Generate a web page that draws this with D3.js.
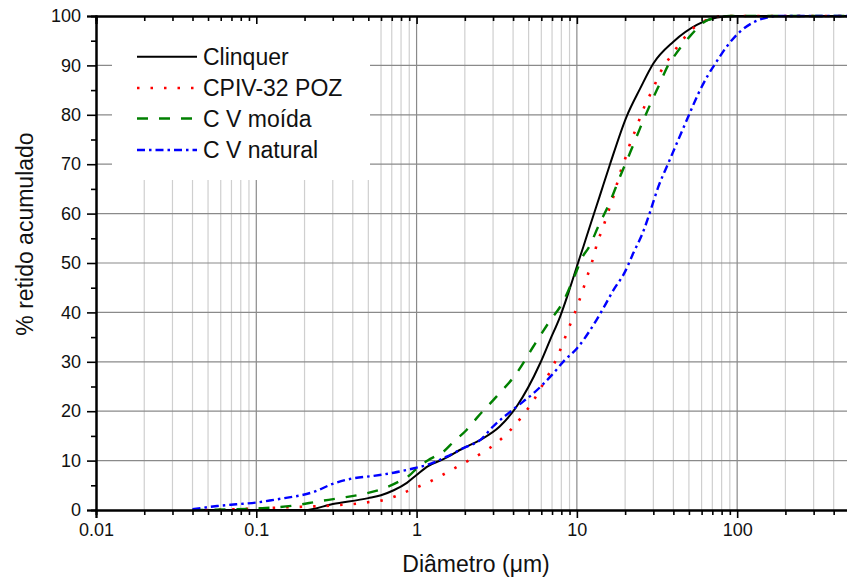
<!DOCTYPE html>
<html><head><meta charset="utf-8">
<script src="https://cdn.jsdelivr.net/npm/d3@7"></script>
<style>body{margin:0;background:#fff}svg{display:block}text{font-family:"Liberation Sans",Arial,sans-serif}</style>
</head><body><svg id="c" width="847" height="588"></svg>
<script>
// ---- data ----
const seriesNames = ["Clinquer", "CPIV-32 POZ", "C V moída", "C V natural"];
const clinquer = [[0.04,0],[0.2,0],[0.3,1.2],[0.5,2.4],[0.6,3.0],[0.72,4.0],[0.87,5.5],[1.0,7.1],[1.18,8.9],[1.47,10.3],[1.95,12.5],[2.5,14.2],[3.3,16.9],[4.2,20.9],[5.9,29.7],[6.8,34.4],[7.85,39.1],[8.84,43.9],[10,49.3],[11,53.4],[12.1,57.6],[13.9,63.6],[16.1,70],[20.4,79.6],[24.8,85.3],[30,90.4],[40,94.8],[56,98.2],[75,99.7],[100,100],[500,100]];
const cpiv = [[0.048,0],[0.08,0.2],[0.14,0.5],[0.216,0.7],[0.26,0.8],[0.325,1.0],[0.4,1.2],[0.49,1.55],[0.6,1.9],[0.74,2.8],[0.91,4.05],[1.13,5.3],[1.39,6.75],[1.69,8.3],[2.08,9.9],[2.6,11.7],[3.16,13.6],[3.86,16.2],[4.59,19.1],[5.3,21.9],[6.03,25],[6.73,27.7],[7.48,30.7],[8.15,33.6],[8.84,36.6],[9.6,39.5],[10.35,42.4],[11.07,45.2],[11.8,48],[12.7,51.2],[13.4,54.1],[14.5,57],[15.5,59.9],[16.7,62.9],[18.8,68.7],[20.2,71.5],[21.7,74.6],[23.6,77.5],[25.4,80.4],[27.9,83.3],[30.7,86.2],[33.8,89.1],[39,92.1],[45,94.9],[54.6,97.8],[66,99.3],[82,100],[500,100]];
const cvMoida = [[0.04,0],[0.1,0.3],[0.18,1.0],[0.24,1.7],[0.33,2.4],[0.46,3.2],[0.65,4.6],[0.77,5.7],[0.91,7.1],[1.0,8.4],[1.21,10.3],[1.47,11.8],[1.7,13.8],[2.05,16.2],[2.4,18.8],[3.16,23],[4.21,27.7],[5.35,33.1],[6.63,37.8],[8.22,42.2],[9.73,47.6],[11,51.6],[11.8,53],[13.6,57.4],[16.1,62.4],[18.6,67.5],[21.4,72.2],[24.8,77.3],[28.6,82],[33,86.4],[37.2,90.1],[39,91.1],[49.5,95.5],[66,99.2],[90,100],[500,100]];
const cvNatural = [[0.04,0.15],[0.057,0.8],[0.075,1.15],[0.1,1.5],[0.134,2.15],[0.15,2.4],[0.23,3.7],[0.3,5.3],[0.4,6.4],[0.54,6.9],[0.72,7.55],[0.95,8.4],[1.16,9.1],[1.54,10.8],[1.95,12.5],[2.5,14.2],[3.0,16.9],[4.2,20.9],[5.35,23.6],[6.97,27.3],[8.43,30.4],[10,32.7],[12.1,36.4],[14.6,40.8],[16.9,44.5],[19.95,48.2],[22.5,52],[25.9,56.3],[28.6,60.3],[32.2,65.4],[37.2,70.2],[43,75],[49.5,79.6],[57.3,84.3],[66,88.1],[74.5,90.8],[86,93.8],[101.6,96.5],[126,98.7],[153,99.7],[176,100],[500,100]];
const xTickLabels = ["0.01","0.1","1","10","100"];
const yTickValues = [0,10,20,30,40,50,60,70,80,90,100];

// ---- layout ----
const L = 96, R = 849.2, T = 16, B = 510;
const svg = d3.select("#c");
const x = d3.scaleLog().domain([0.01, 500]).range([L, R]);
const y = d3.scaleLinear().domain([0, 100]).range([B, T]);

const majorX = xTickLabels.map(Number);
const minorX = [];
[0.01,0.1,1,10,100].forEach(dec => { for (let k=2;k<=9;k++){ const v=dec*k; if (v<=500) minorX.push(v);} });
const minorY = d3.range(5,100,10);

const g = svg.append("g");
// gridlines
g.selectAll(".mnx").data(minorX).join("line")
  .attr("x1",d=>x(d)).attr("x2",d=>x(d)).attr("y1",T).attr("y2",B)
  .attr("stroke","#cfcfcf").attr("stroke-width",1.2);
g.selectAll(".mjx").data(majorX.slice(1)).join("line")
  .attr("x1",d=>x(d)).attr("x2",d=>x(d)).attr("y1",T).attr("y2",B)
  .attr("stroke","#8a8a8a").attr("stroke-width",1.2);
g.selectAll(".mjy").data(yTickValues.slice(1,-1)).join("line")
  .attr("x1",L).attr("x2",R).attr("y1",d=>y(d)).attr("y2",d=>y(d))
  .attr("stroke","#8a8a8a").attr("stroke-width",1.2);

// legend background
svg.append("rect").attr("x",112).attr("y",T+1).attr("width",258).attr("height",180-T-1).attr("fill","#fff");

// curves
const line = d3.line().x(d=>x(d[0])).y(d=>y(d[1])).curve(d3.curveMonotoneX);
const styles = [
  {data: clinquer, color:"#000000", dash:null, w:2},
  {data: cpiv, color:"#ff0000", dash:"2.5,11", w:2.6},
  {data: cvMoida, color:"#008000", dash:"11,11", w:2.4},
  {data: cvNatural, color:"#0000ff", dash:"8,4,2.5,4", w:2.4}
];
styles.forEach(s => {
  svg.append("path").datum(s.data).attr("d",line).attr("fill","none")
    .attr("stroke",s.color).attr("stroke-width",s.w)
    .attr("stroke-dasharray",s.dash);
});

// axes
const axisG = svg.append("g");
axisG.append("g").attr("transform",`translate(0,${B})`).call(d3.axisBottom(x).tickValues(minorX).tickSize(5).tickFormat(""));
axisG.append("g").attr("transform",`translate(0,${B})`)
  .call(d3.axisBottom(x).tickValues(majorX).tickSize(8).tickPadding(5).tickFormat((d,i)=>xTickLabels[i]));
axisG.append("g").attr("transform",`translate(0,${T})`).call(d3.axisBottom(x).tickValues(minorX).tickSize(5).tickFormat(""));
axisG.append("g").attr("transform",`translate(0,${T})`).call(d3.axisBottom(x).tickValues(majorX).tickSize(8).tickFormat(""));
axisG.append("g").attr("transform",`translate(${L},0)`).call(d3.axisLeft(y).tickValues(minorY).tickSize(5).tickFormat(""));
axisG.append("g").attr("transform",`translate(${L},0)`)
  .call(d3.axisLeft(y).tickValues(yTickValues).tickSize(9).tickPadding(6).tickFormat(d3.format("d")));
axisG.selectAll(".domain").attr("stroke","#000").attr("stroke-width",2);
axisG.selectAll(".tick line").attr("stroke","#000").attr("stroke-width",1.6);
axisG.selectAll(".tick text").attr("fill","#111").style("font-size","18px");

// axis titles
svg.append("text").attr("x",476).attr("y",572).attr("text-anchor","middle")
  .style("font-size","23px").attr("fill","#111").text("Diâmetro (μm)");
svg.append("text").attr("transform","translate(33,234) rotate(-90)").attr("text-anchor","middle")
  .style("font-size","23px").attr("fill","#111").text("% retido acumulado");

// legend
const lg = svg.append("g");
const rowsY = [56.7, 88, 118.5, 150];
styles.forEach((s,i)=>{
  lg.append("line").attr("x1",137).attr("x2",197).attr("y1",rowsY[i]).attr("y2",rowsY[i])
    .attr("stroke",s.color).attr("stroke-width",s.w).attr("stroke-dasharray",s.dash);
  lg.append("text").attr("x",203).attr("y",rowsY[i]+8.3).style("font-size","23px").attr("fill","#111").text(seriesNames[i]);
});
</script></body></html>
